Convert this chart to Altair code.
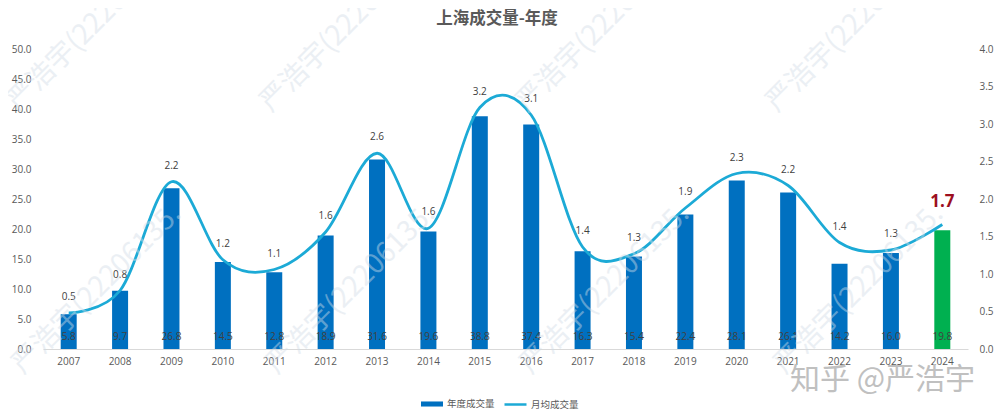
import altair as alt
import pandas as pd

years = ['2007', '2008', '2009', '2010', '2011', '2012', '2013', '2014', '2015',
         '2016', '2017', '2018', '2019', '2020', '2021', '2022', '2023', '2024']
annual = [5.8, 9.7, 26.8, 14.5, 12.8, 18.9, 31.6, 19.6, 38.8,
          37.4, 16.3, 15.4, 22.4, 28.1, 26.1, 14.2, 16.0, 19.8]
monthly = [0.48, 0.78, 2.23, 1.19, 1.06, 1.56, 2.61, 1.61, 3.22,
           3.12, 1.36, 1.27, 1.88, 2.34, 2.18, 1.42, 1.32, 1.66]

FONT = 'Noto Sans CJK SC'
BLUE = '#0070c0'
GREEN = '#00b050'
CYAN = '#1caad6'

df = pd.DataFrame({'year': years, 'annual': annual, 'monthly': monthly})
df['bar_series'] = '年度成交量'
df['line_series'] = '月均成交量'

x = alt.X('year:N', title=None, sort=years,
          scale=alt.Scale(paddingInner=0, paddingOuter=0),
          axis=alt.Axis(labelAngle=0, labelPadding=7, ticks=False,
                        domainColor='#d9d9d9', labelColor='#595959',
                        labelFontSize=10, labelFont='Open Sans'))
y_left = alt.Scale(domain=[0, 50])
y_right = alt.Scale(domain=[0, 4])
axis_left = alt.Axis(values=[v * 5 for v in range(11)], format='.1f', title=None,
                     orient='left', domain=False, ticks=False, grid=False,
                     labelPadding=12, labelColor='#595959', labelFontSize=10,
                     labelFont='Open Sans')
axis_right = alt.Axis(values=[v * 0.5 for v in range(9)], format='.1f', title=None,
                      orient='right', domain=False, ticks=False, grid=False,
                      labelPadding=11, labelColor='#595959', labelFontSize=10,
                      labelFont='Open Sans')

bars = alt.Chart(df).mark_bar(size=16).encode(
    x=x,
    y=alt.Y('annual:Q', scale=y_left, axis=axis_left),
    color=alt.condition(
        alt.datum.year == '2024', alt.value(GREEN),
        alt.Color('bar_series:N', scale=alt.Scale(range=[BLUE]),
                  legend=alt.Legend(title=None, orient='none', legendX=377, legendY=343,
                                    symbolType='M-1,-0.23H1V0.23H-1Z', symbolSize=484,
                                    labelFont=FONT, labelFontSize=9.5, labelColor='#595959',
                                    labelOffset=3))))

# same y scale as the bars, text sits at the foot of each bar
bar_labels = alt.Chart(df).mark_text(fontSize=10, dy=-12, color='#404040',
                                     font='Open Sans').encode(
    x=x,
    y=alt.Y('zero:Q', scale=y_left, axis=axis_left),
    text=alt.Text('annual:Q', format='.1f')).transform_calculate(zero='0')

line = alt.Chart(df).mark_line(interpolate='cardinal', tension=0, strokeWidth=2.8).encode(
    x=x,
    y=alt.Y('monthly:Q', scale=y_right, axis=axis_right),
    stroke=alt.Stroke('line_series:N', scale=alt.Scale(range=[CYAN]),
                      legend=alt.Legend(title=None, orient='none', legendX=460, legendY=343,
                                        symbolType='stroke', symbolSize=484,
                                        symbolStrokeWidth=2.5,
                                        labelFont=FONT, labelFontSize=9.5, labelColor='#595959',
                                        labelOffset=3)))

line_labels = alt.Chart(df[df['year'] != '2024']).mark_text(
    fontSize=10, dy=-16, color='#404040', font='Open Sans').encode(
    x=x,
    y=alt.Y('monthly:Q', scale=y_right, axis=axis_right),
    text=alt.Text('monthly:Q', format='.1f'))

last_label = alt.Chart(df[df['year'] == '2024']).mark_text(
    fontSize=17, fontWeight='bold', dy=-23, color='#9c0f1f', font='Open Sans').encode(
    x=x,
    y=alt.Y('monthly:Q', scale=y_right, axis=axis_right),
    text=alt.Text('monthly:Q', format='.1f'))

left = alt.layer(bars, bar_labels)
right = alt.layer(line, line_labels, last_label)

# faint diagonal stamps over the plot, spots are page pixels
stamp = '严浩宇(22206135.'
stamps = []
for px, py in [(18, 112), (271, 113), (527, 113), (777, 113),
               (23, 375), (277, 375), (531, 375), (785, 375)]:
    stamps.append(alt.Chart(df.head(1)).mark_text(
        text=stamp, angle=315, align='left', baseline='alphabetic', font=FONT, fontSize=28,
        color='#d2dde7', opacity=0.44).encode(x=alt.value(px - 43), y=alt.value(py - 49)))

zhihu = alt.Chart(df.head(1)).mark_text(
    text='知乎  @严浩宇', align='left', baseline='middle', font=FONT, fontSize=30,
    color='#c0c0c0').encode(x=alt.value(790 - 43), y=alt.value(380 - 49))

title = alt.Chart(df.head(1)).mark_text(
    text='上海成交量-年度', align='center', baseline='middle', font=FONT, fontSize=16.5,
    fontWeight='bold', color='#595959').encode(x=alt.value(497 - 43), y=alt.value(19 - 49))

chart = alt.layer(left, right, *stamps, zhihu, title).resolve_scale(
    y='independent', color='independent', stroke='independent'
).properties(
    width=925, height=300,
    autosize=alt.AutoSizeParams(type='none'),
    padding={'left': 35, 'top': 41, 'right': 27, 'bottom': 62}
).configure_view(stroke=None)

chart.save("out.html", embed_options={"renderer": "svg", "actions": False})
